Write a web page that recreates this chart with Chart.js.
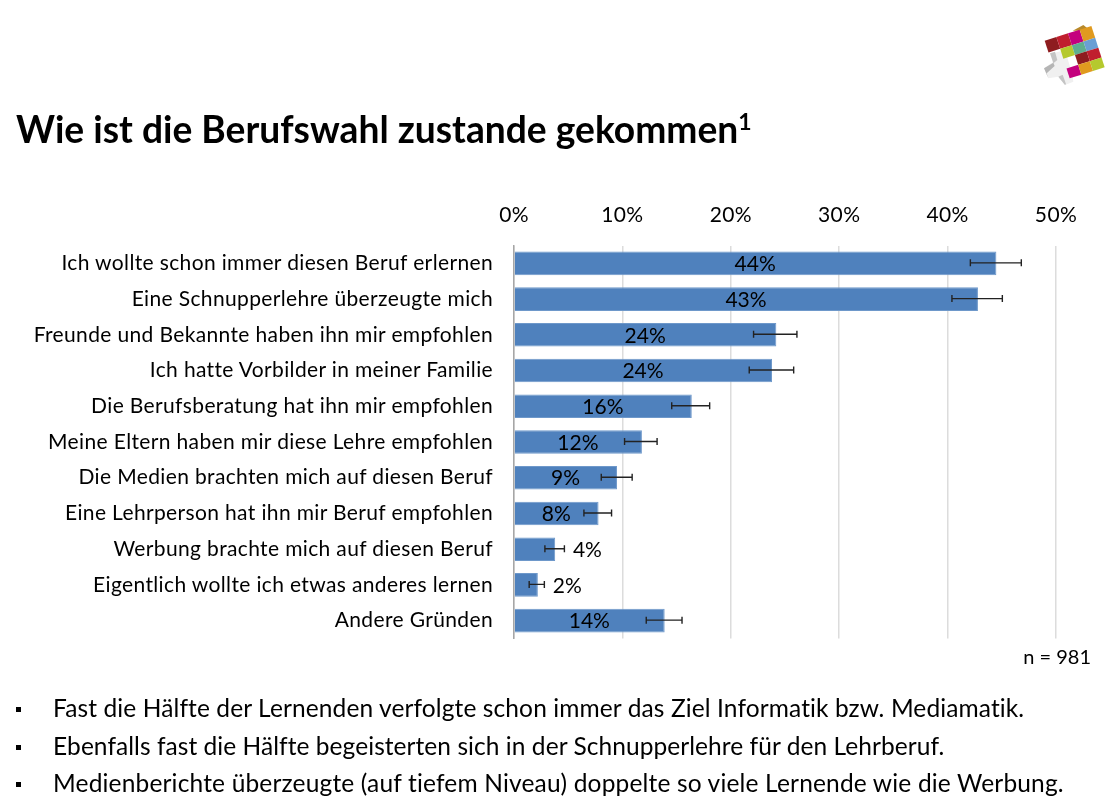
<!DOCTYPE html>
<html lang="de">
<head>
<meta charset="utf-8">
<title>Wie ist die Berufswahl zustande gekommen</title>
<script src="https://cdn.jsdelivr.net/npm/chart.js@4/dist/chart.umd.min.js"></script>
<style>
  html, body { margin: 0; padding: 0; background: #fff; }
  body { width: 1118px; height: 797px; position: relative; overflow: hidden; font-family: Lato, sans-serif; color: #000; font-variant-ligatures: none; }
  #chart { position: absolute; left: 0; top: 0; }
  #logo { position: absolute; left: 1020px; top: 10px; }
  h1 { position: absolute; left: 16px; top: 105px; margin: 0; font-size: 37.2px; line-height: 48px; font-weight: 700; white-space: nowrap; }
  h1 sup { font-size: 23px; line-height: 0; position: relative; top: 0; vertical-align: super; }
  .note { position: absolute; right: 27px; top: 644px; font-size: 20px; line-height: 24px; }
  ul { position: absolute; left: 0; top: 0; margin: 0; padding: 0; list-style: none; }
  li { position: absolute; left: 53px; font-size: 24.5px; letter-spacing: 0.17px; line-height: 30px; white-space: nowrap; }
  li::before { content: ""; position: absolute; left: -37px; top: 14px; width: 5px; height: 5px; background: #000; }
</style>
</head>
<body>
<canvas id="chart" width="1118" height="797"></canvas>

<svg id="logo" width="98" height="90" viewBox="0 0 294 270">
  <polygon points="100,155 105,128 135,120 150,170 155,175 160,215 135,225 115,200 85,205 72,175" fill="#f0f0f0"/>
  <polygon points="72,175 100,158 104,168 80,190 85,205" fill="#b5b5b5"/>
  <polygon points="115,200 128,194 138,222 135,225" fill="#c4c4c4"/>
  <polygon points="90,130 105,125 112,150 100,160" fill="#c4c4c4"/>
  <polygon points="158,62 190,45 212,62" fill="#b8892a"/>
  <g transform="matrix(35 -11 9.5 29.5 76 98)">
    <rect x="0" y="-0.2" width="1" height="1.2" fill="#8e1c1f"/>
    <rect x="1" y="-0.2" width="1" height="1.2" fill="#c01f2e"/>
    <rect x="2" y="-0.2" width="1" height="1.2" fill="#c4007e"/>
    <rect x="3" y="-0.2" width="1" height="1.2" fill="#e09a1f"/>
    <rect x="1" y="1" width="1" height="1" fill="#b5c92e"/>
    <rect x="2" y="1" width="1" height="1" fill="#5fae8f"/>
    <rect x="3" y="1" width="1" height="1" fill="#6a9fd4"/>
    <rect x="2" y="2" width="1" height="1" fill="#8e1c1f"/>
    <rect x="3" y="2" width="1" height="1" fill="#c01f2e"/>
    <rect x="1" y="3" width="1" height="1" fill="#c4007e"/>
    <rect x="2" y="3" width="1" height="1" fill="#e09a1f"/>
    <rect x="3" y="3" width="1" height="1" fill="#b5c92e"/>
  </g>
</svg>

<h1>Wie ist die Berufswahl zustande gekommen<sup>1</sup></h1>
<div class="note">n = 981</div>
<ul>
  <li style="top:693px; letter-spacing:0.11px">Fast die Hälfte der Lernenden verfolgte schon immer das Ziel Informatik bzw. Mediamatik.</li>
  <li style="top:731px; letter-spacing:0.06px">Ebenfalls fast die Hälfte begeisterten sich in der Schnupperlehre für den Lehrberuf.</li>
  <li style="top:768px">Medienberichte überzeugte (auf tiefem Niveau) doppelte so viele Lernende wie die Werbung.</li>
</ul>

<script>
/* ---- data ---- */
var categories = [
  'Ich wollte schon immer diesen Beruf erlernen',
  'Eine Schnupperlehre überzeugte mich',
  'Freunde und Bekannte haben ihn mir empfohlen',
  'Ich hatte Vorbilder in meiner Familie',
  'Die Berufsberatung hat ihn mir empfohlen',
  'Meine Eltern haben mir diese Lehre empfohlen',
  'Die Medien brachten mich auf diesen Beruf',
  'Eine Lehrperson hat ihn mir Beruf empfohlen',
  'Werbung brachte mich auf diesen Beruf',
  'Eigentlich wollte ich etwas anderes lernen',
  'Andere Gründen'
];
var values    = [44.5, 42.8, 24.2, 23.8, 16.4, 11.8, 9.5, 7.8, 3.8, 2.2, 13.9];
var errLow    = [42.1, 40.4, 22.1, 21.7, 14.55, 10.2, 8.05, 6.45, 2.85, 1.4, 12.2];
var errHigh   = [46.8, 45.05, 26.1, 25.8, 18.05, 13.2, 10.9, 9.0, 4.65, 2.8, 15.5];
var barLabels = ['44%', '43%', '24%', '24%', '16%', '12%', '9%', '8%', '4%', '2%', '14%'];
var xTicks    = [0, 10, 20, 30, 40, 50];

var FONT = 'Lato, sans-serif';

// Calibri runs wider than Lato, so the axis text gets a little tracking
var tracking = {
  id: 'tracking',
  beforeDraw: function (chart) {
    chart.ctx.letterSpacing = '0.36px';
    chart.ctx.fontKerning = 'normal';
    chart.ctx.fontVariantLigatures = 'none';
  }
};

// Whiskers plus the value labels; small bars get the label behind the whisker
var barExtras = {
  id: 'barExtras',
  afterDatasetsDraw: function (chart) {
    var ctx = chart.ctx;
    var x = chart.scales.x;
    var y = chart.scales.y;
    var capH = 3.5;

    ctx.save();
    ctx.letterSpacing = '0px';
    categories.forEach(function (c, i) {
      var cy = y.getPixelForValue(i) - 0.5;
      var x0 = x.getPixelForValue(errLow[i]);
      var x1 = x.getPixelForValue(errHigh[i]);

      ctx.strokeStyle = '#222';
      ctx.lineWidth = 1.4;
      ctx.beginPath();
      ctx.moveTo(x0, cy);
      ctx.lineTo(x1, cy);
      ctx.moveTo(x0, cy - capH);
      ctx.lineTo(x0, cy + capH);
      ctx.moveTo(x1, cy - capH);
      ctx.lineTo(x1, cy + capH);
      ctx.stroke();

      ctx.font = '21px ' + FONT;
      ctx.fillStyle = '#000';
      ctx.textBaseline = 'middle';
      if (values[i] < 5) {
        ctx.textAlign = 'left';
        ctx.fillText(barLabels[i], x1 + 8.5, cy + 1.5);
      } else {
        ctx.textAlign = 'center';
        ctx.fillText(barLabels[i], x.getPixelForValue(values[i] / 2), cy + 1.5);
      }
    });
    ctx.restore();
  }
};

new Chart(document.getElementById('chart'), {
  type: 'bar',
  data: {
    labels: categories,
    datasets: [{
      data: values,
      backgroundColor: '#4F81BD',
      borderColor: '#6E98CA',
      borderWidth: 1,
      borderSkipped: 'left',
      barPercentage: 0.66,
      categoryPercentage: 1
    }]
  },
  options: {
    indexAxis: 'y',
    responsive: false,
    animation: false,
    layout: { padding: { left: 0, top: 0, right: 62, bottom: 158.5 } },
    plugins: { legend: { display: false }, tooltip: { enabled: false } },
    scales: {
      x: {
        position: 'top',
        min: 0,
        max: 50,
        afterBuildTicks: function (axis) {
          axis.ticks = xTicks.map(function (v) { return { value: v }; });
        },
        afterFit: function (axis) { axis.height = 245.5; },
        grid: { color: '#dcdcdc', lineWidth: 1.5, drawTicks: false },
        border: { display: false },
        ticks: {
          padding: 18,
          color: '#000',
          maxRotation: 0,
          font: { family: FONT, size: 21 },
          callback: function (v) { return v + '%'; }
        }
      },
      y: {
        afterFit: function (axis) { axis.width = 514; },
        grid: { display: false, drawTicks: false },
        border: { display: true, color: '#a6a6a6', width: 1.5 },
        ticks: {
          padding: 21,
          color: '#000',
          autoSkip: false,
          font: { family: FONT, size: 21 }
        }
      }
    }
  },
  plugins: [tracking, barExtras]
});
</script>
</body>
</html>
